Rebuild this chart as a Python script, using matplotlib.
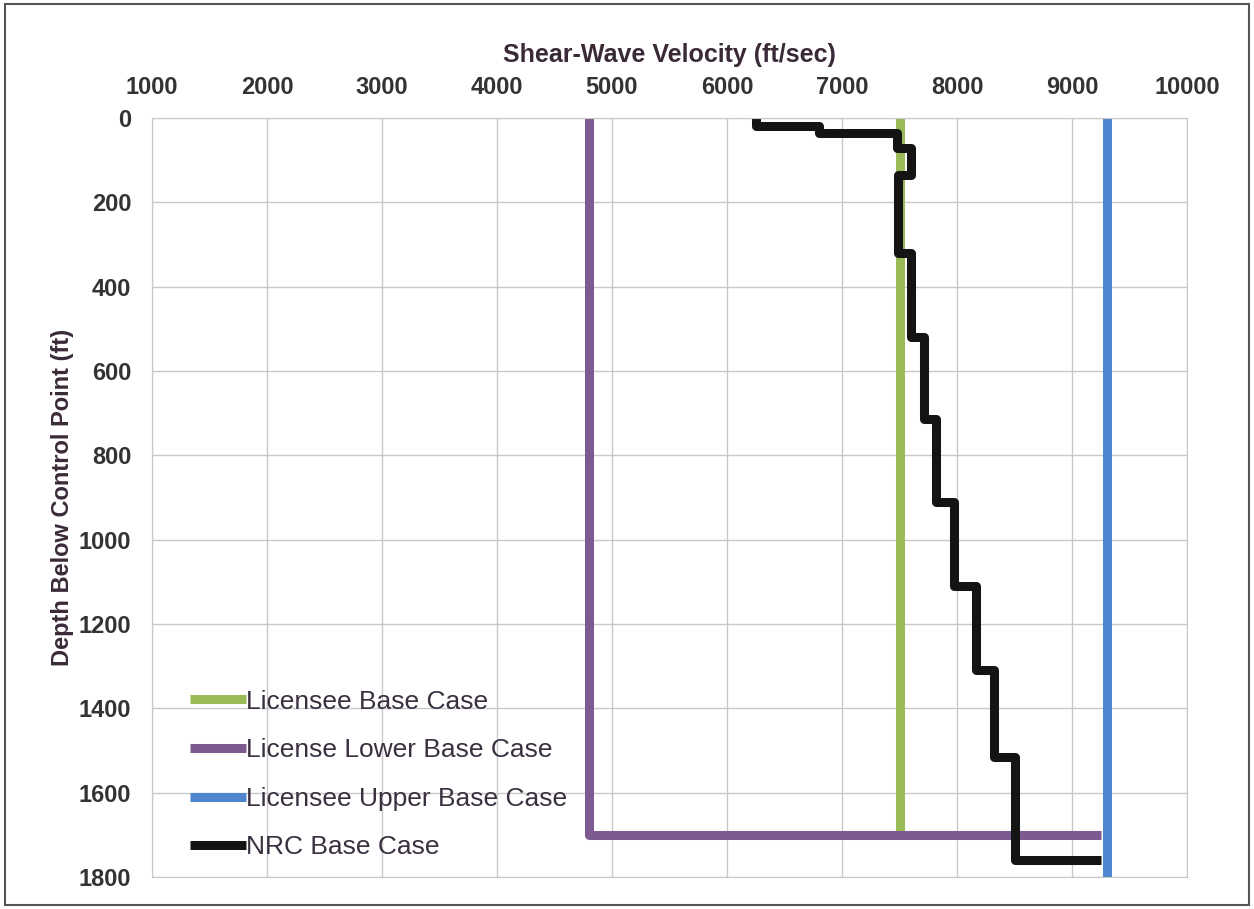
import matplotlib.pyplot as plt
import matplotlib.patches as mpatches
import numpy as np

# layer data (depth in ft, Vs in ft/sec)
nrc_top = [0, 18, 35, 70, 135, 320, 520, 715, 910, 1110, 1310, 1515]
nrc_bot = [18, 35, 70, 135, 320, 520, 715, 910, 1110, 1310, 1515, 1760]
nrc_vs = [6250, 6800, 7480, 7600, 7490, 7600, 7710, 7815, 7975, 8165, 8320, 8500]
nrc_end_vs = 9250

base_vs = [7500, 7500]
base_depth = [0, 1700]
lower_vs = [4800, 4800, 9250]
lower_depth = [0, 1700, 1700]
upper_vs = [9300, 9300]
upper_depth = [0, 1800]

xticks = [1000, 2000, 3000, 4000, 5000, 6000, 7000, 8000, 9000, 10000]
yticks = [0, 200, 400, 600, 800, 1000, 1200, 1400, 1600, 1800]

# build the step profile
nrc_x = list(np.repeat(nrc_vs, 2)) + [nrc_end_vs]
nrc_y = list(np.ravel(np.column_stack([nrc_top, nrc_bot]))) + [nrc_bot[-1]]

plt.rcParams['font.family'] = ['Liberation Sans', 'DejaVu Sans']

fig = plt.figure(figsize=(12.54, 9.09), dpi=100)
ax = fig.add_axes([152 / 1254, 1 - 877 / 909, (1187 - 152) / 1254, (877 - 118) / 909])

lw = 6.5
ax.plot(base_vs, base_depth, color='#9BBB59', lw=lw, label='Licensee Base Case', solid_capstyle='butt')
ax.plot(lower_vs, lower_depth, color='#7E5A93', lw=lw, label='License Lower Base Case', solid_capstyle='butt')
ax.plot(upper_vs, upper_depth, color='#4F86CF', lw=lw, label='Licensee Upper Base Case', solid_capstyle='butt')
ax.plot(nrc_x, nrc_y, color='#141414', lw=lw, label='NRC Base Case', solid_capstyle='butt')

ax.set_xlim(1000, 10000)
ax.set_ylim(1800, 0)
ax.set_xticks(xticks)
ax.set_yticks(yticks)
ax.xaxis.tick_top()
ax.xaxis.set_label_position('top')
ax.tick_params(axis='x', length=0, labelsize=17, colors='#333333', pad=14)
ax.tick_params(axis='y', length=0, labelsize=17, colors='#333333', pad=15)
for lab in ax.get_xticklabels() + ax.get_yticklabels():
    lab.set_fontweight('bold')
ax.grid(True, color='#c8c8c8', lw=1)
ax.set_axisbelow(True)
for s in ax.spines.values():
    s.set_color('#c8c8c8')

ax.set_xlabel('Shear-Wave Velocity (ft/sec)', fontsize=18, fontweight='bold', color='#3a2a38', labelpad=10)
ax.set_ylabel('Depth Below Control Point (ft)', fontsize=17, fontweight='bold', color='#3a2a38', labelpad=3)

leg = ax.legend(loc='lower left', bbox_to_anchor=(0.014, -0.008), frameon=False, fontsize=19,
                handlelength=2.1, handletextpad=0.0, labelspacing=0.93)
for t in leg.get_texts():
    t.set_color('#3a3040')

fig.patches.append(mpatches.Rectangle((0.004, 0.004), 0.992, 0.992, transform=fig.transFigure,
                                      fill=False, edgecolor='#555555', lw=1.5))

fig.savefig('out.png', dpi=100)
